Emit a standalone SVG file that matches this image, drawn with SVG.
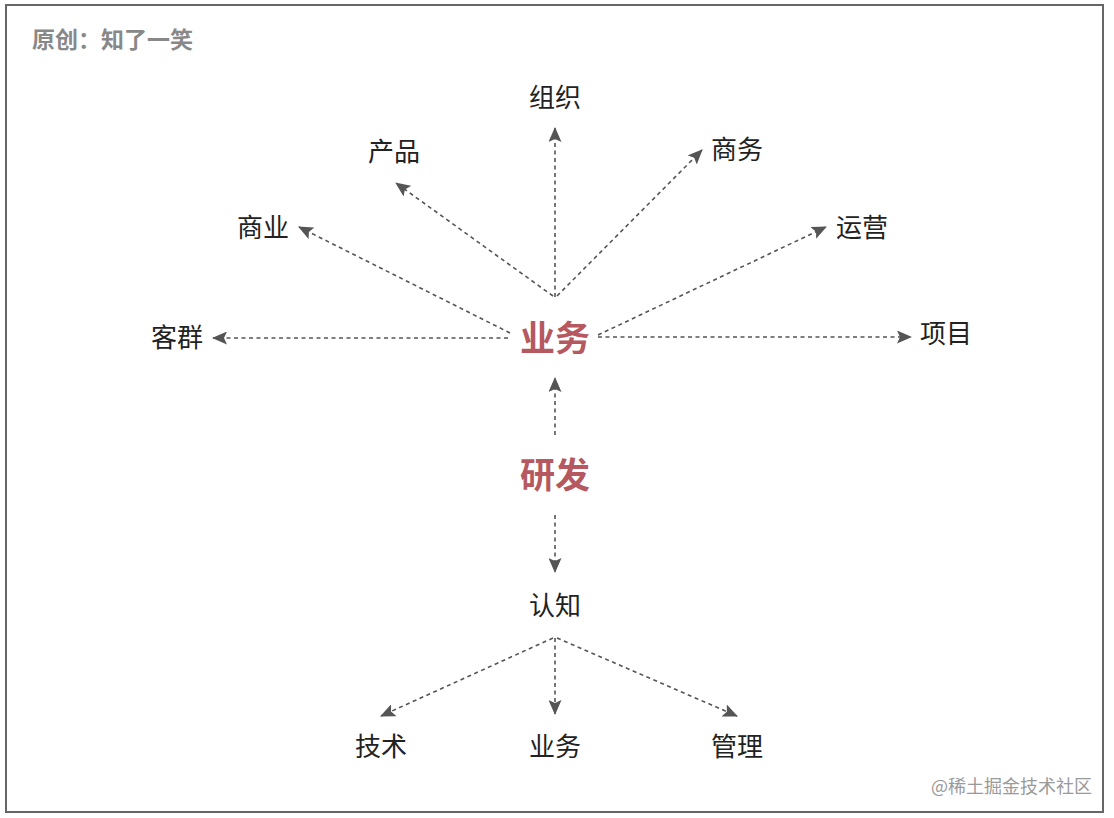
<svg xmlns="http://www.w3.org/2000/svg" width="1114" height="818" viewBox="0 0 1114 818">
<style>
.lbl{font-family:"Noto Sans CJK SC","Noto Sans",sans-serif;font-size:26px;fill:#222;text-anchor:middle;dominant-baseline:central}
.key{font-family:"Noto Sans CJK SC","Noto Sans",sans-serif;font-size:35px;font-weight:bold;fill:#b5585f;text-anchor:middle;dominant-baseline:central}
.con{stroke:#555;stroke-width:1.6;stroke-dasharray:4 3.5;fill:none;marker-end:url(#ah)}
</style>
<defs>
<marker id="ah" markerUnits="userSpaceOnUse" markerWidth="15" markerHeight="13" refX="14" refY="6.5" orient="auto">
<path d="M0,0 L15,6.5 L0,13 L3,6.5 Z" fill="#555"/>
</marker>
</defs>
<rect x="0" y="0" width="1114" height="818" fill="#fff"/>
<rect x="6" y="5" width="1097" height="807" fill="#fff" stroke="#666" stroke-width="2"/>
<text x="32" y="38" style="font-family:'Noto Sans CJK SC',sans-serif;font-size:23px;font-weight:bold;fill:#888;dominant-baseline:central">原创：知了一笑</text>
<text x="1092" y="785" style="font-family:'Noto Sans CJK SC',sans-serif;font-size:18px;fill:#9a9a9a;text-anchor:end;dominant-baseline:central">@稀土掘金技术社区</text>
<g id="connectors">
<path class="con" d="M555,297 L555,128"/>
<path class="con" d="M553,296 L396,183"/>
<path class="con" d="M557,296 L702,150"/>
<path class="con" d="M510,333 L299,227"/>
<path class="con" d="M598,335 L826,227"/>
<path class="con" d="M508,338 L213,338"/>
<path class="con" d="M598,337 L911,337"/>
<path class="con" d="M555,435 L555,378"/>
<path class="con" d="M555,515 L555,572"/>
<path class="con" d="M553,638 L381,716"/>
<path class="con" d="M555,638 L555,714"/>
<path class="con" d="M557,638 L737,716"/>
</g>
<g id="n-zuzhi"><text class="lbl" x="555" y="95">组织</text></g>
<g id="n-chanpin"><text class="lbl" x="394" y="149">产品</text></g>
<g id="n-shangwu"><text class="lbl" x="737" y="147">商务</text></g>
<g id="n-shangye"><text class="lbl" x="263" y="225">商业</text></g>
<g id="n-yunying"><text class="lbl" x="862" y="225">运营</text></g>
<g id="n-kequn"><text class="lbl" x="177" y="335">客群</text></g>
<g id="n-xiangmu"><text class="lbl" x="946" y="331">项目</text></g>
<g id="n-yewu"><text class="key" x="555" y="335">业务</text></g>
<g id="n-yanfa"><text class="key" x="555" y="472">研发</text></g>
<g id="n-renzhi"><text class="lbl" x="555" y="603">认知</text></g>
<g id="n-jishu"><text class="lbl" x="381" y="744">技术</text></g>
<g id="n-yewu2"><text class="lbl" x="555" y="744">业务</text></g>
<g id="n-guanli"><text class="lbl" x="737" y="744">管理</text></g>
</svg>
